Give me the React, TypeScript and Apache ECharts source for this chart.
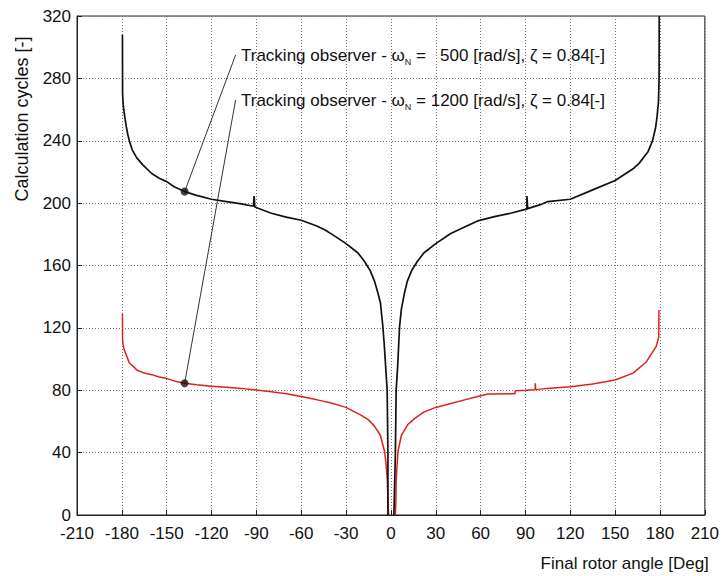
import React, { useEffect, useRef } from "react";
import * as echarts from "echarts";

// X axis ticks and Y axis ticks
const xTicks = [-210, -180, -150, -120, -90, -60, -30, 0, 30, 60, 90, 120, 150, 180, 210];
const yTicks = [0, 40, 80, 120, 160, 200, 240, 280, 320];

// Tracking observer ωN = 500 rad/s (black curve), [angle, cycles]
const obs500Left: number[][] = [
  [-179.6, 308], [-179.5, 270], [-179, 262], [-178, 255], [-177, 249], [-176, 244],
  [-175, 240], [-173, 234], [-170, 229], [-166, 224.5], [-160, 219], [-155, 216],
  [-150, 213.8], [-145, 210.5], [-138, 207.4], [-130, 205], [-120, 202.5], [-110, 201],
  [-100, 199.5], [-92, 198], [-91.5, 204.5], [-91, 197.5], [-80, 193.5], [-70, 191],
  [-60, 189], [-50, 185.5], [-44, 182.8], [-37, 178.5], [-30, 174], [-22, 168],
  [-18, 163], [-14, 157], [-11, 150], [-8.6, 142], [-7, 136], [-5.5, 122],
  [-4.5, 110], [-3.5, 95], [-2.5, 80], [-2, 40], [-2, 0],
];
const obs500Right: number[][] = [
  [2, 0], [3, 40], [3.5, 80], [4.5, 95], [5.8, 121], [7, 132], [9, 142], [11, 150],
  [14, 157], [18, 163], [22, 168], [30, 174], [40, 180.5], [50, 185], [58, 188.6],
  [70, 191.5], [80, 193.5], [90, 196], [91, 196], [91, 204.5], [91.5, 196.5],
  [100, 199], [105, 201], [120, 202.5], [135, 208.5], [150, 214.5], [162, 222],
  [166, 225.5], [172, 233], [175, 240], [177, 248], [178, 255], [179, 265],
  [179.4, 280], [179.5, 320],
];

// Tracking observer ωN = 1200 rad/s (red curve)
const obs1200Left: number[][] = [
  [-179.6, 129], [-179.5, 112], [-179, 108], [-178, 105], [-176, 100], [-175, 97.5],
  [-172, 95], [-170, 93], [-165, 91], [-160, 90], [-155, 88.5], [-150, 87.6],
  [-145, 86], [-138, 84.5], [-130, 83.6], [-120, 82.6], [-110, 82], [-100, 81.2],
  [-90, 80.1], [-80, 79], [-70, 77.8], [-60, 76], [-50, 74], [-40, 71.8],
  [-30, 69], [-25, 66.5], [-20, 64], [-15, 61], [-11, 57], [-7, 51], [-4.2, 40.6],
  [-3.1, 31], [-2.4, 22], [-2, 8], [-1.5, 0],
];
const obs1200Right: number[][] = [
  [3, 0], [3.3, 8], [3.5, 22], [4.7, 40.6], [7, 51], [11.3, 58], [16, 62],
  [22, 66], [30, 69], [40, 71.5], [50, 74], [58, 76], [65, 77.6], [83, 77.8],
  [83.2, 79.7], [90, 80], [96.5, 80.3], [96.6, 84.5], [96.8, 80.4], [104.4, 81.2],
  [120, 82.3], [135, 84], [150, 86.6], [162, 91], [171, 98.3], [177.4, 108],
  [179.2, 114], [179.3, 131.5],
];

// Annotation markers and pointer-line ends
const markerPoints: number[][] = [[-138, 207.4], [-138, 84.5]];
const pointer500: number[][] = [[-138, 207.4], [-103.9, 295]];
const pointer1200: number[][] = [[-138, 84.5], [-103.9, 266.1]];

const FONT = "'Liberation Sans', Arial, Helvetica, sans-serif";

export default function App() {
  const ref = useRef<HTMLDivElement>(null);
  useEffect(() => {
    if (!ref.current) return;
    const chart = echarts.init(ref.current, undefined, { renderer: "svg" });
    const labelRich = {
      a: { fontSize: 17, fontFamily: FONT, color: "#111", lineHeight: 22 },
      s: { fontSize: 9, fontFamily: FONT, color: "#111", lineHeight: 22, verticalAlign: "bottom" as const },
    };
    chart.setOption({
      animation: false,
      backgroundColor: "#fff",
      grid: { left: 77, right: 13, top: 16, bottom: 61, show: true, borderColor: "#222", borderWidth: 1 },
      xAxis: {
        type: "value",
        min: xTicks[0],
        max: xTicks[xTicks.length - 1],
        interval: 30,
        name: "Final rotor angle [Deg]",
        nameLocation: "end",
        nameGap: 4,
        nameTextStyle: { fontSize: 17, fontFamily: FONT, color: "#111", align: "right", verticalAlign: "top", padding: [40, 0, 0, 0] },
        axisLine: { show: true, onZero: false, lineStyle: { color: "#222", width: 1 } },
        axisTick: { show: true, inside: true, length: 5, lineStyle: { color: "#222" } },
        axisLabel: { fontSize: 17, fontFamily: FONT, color: "#111", margin: 10 },
        splitLine: { show: true, lineStyle: { color: "#777", type: [1, 2], width: 1 } },
      },
      yAxis: {
        type: "value",
        min: yTicks[0],
        max: yTicks[yTicks.length - 1],
        interval: 40,
        axisLine: { show: true, onZero: false, lineStyle: { color: "#222", width: 1 } },
        axisTick: { show: true, inside: true, length: 5, lineStyle: { color: "#222" } },
        axisLabel: { fontSize: 17, fontFamily: FONT, color: "#111", margin: 6 },
        splitLine: { show: true, lineStyle: { color: "#777", type: [1, 2], width: 1 } },
      },
      series: [
        { type: "line", name: "ωN=1200 L", data: obs1200Left, showSymbol: false, lineStyle: { color: "#e0211b", width: 1.5 }, z: 3 },
        { type: "line", name: "ωN=1200 R", data: obs1200Right, showSymbol: false, lineStyle: { color: "#e0211b", width: 1.5 }, z: 3 },
        { type: "line", name: "ωN=500 L", data: obs500Left, showSymbol: false, lineStyle: { color: "#111", width: 1.7 }, z: 4 },
        { type: "line", name: "ωN=500 R", data: obs500Right, showSymbol: false, lineStyle: { color: "#111", width: 1.7 }, z: 4 },
        { type: "line", name: "ptr500", data: pointer500, showSymbol: false, lineStyle: { color: "#333", width: 1 }, z: 5 },
        { type: "line", name: "ptr1200", data: pointer1200, showSymbol: false, lineStyle: { color: "#333", width: 1 }, z: 5 },
        { type: "scatter", name: "markers", data: markerPoints, symbolSize: 8, itemStyle: { color: "#111" }, z: 6 },
      ],
      graphic: [
        {
          type: "text",
          x: 22,
          y: 119,
          rotation: Math.PI / 2,
          z: 10,
          style: {
            text: "Calculation cycles [-]",
            fontSize: 18,
            fontFamily: FONT,
            fill: "#111",
            align: "center",
            verticalAlign: "middle",
          },
        },
        {
          type: "text",
          x: 241,
          y: 55,
          z: 10,
          style: {
            text: "{a|Tracking observer - ω}{s|N}{a| =   500 [rad/s], ζ = 0.84[-]}",
            rich: labelRich,
            verticalAlign: "middle",
            fill: "#111",
          },
        },
        {
          type: "text",
          x: 241,
          y: 100,
          z: 10,
          style: {
            text: "{a|Tracking observer - ω}{s|N}{a| = 1200 [rad/s], ζ = 0.84[-]}",
            rich: labelRich,
            verticalAlign: "middle",
            fill: "#111",
          },
        },
      ],
    });
    return () => chart.dispose();
  }, []);
  return <div ref={ref} style={{ width: 722, height: 576, position: "absolute", left: 0, top: 0 }} />;
}
